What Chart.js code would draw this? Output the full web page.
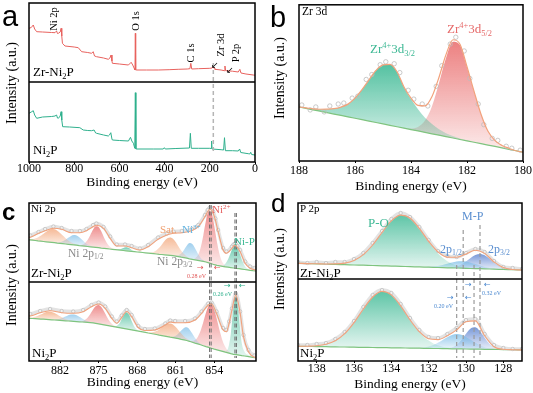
<!DOCTYPE html>
<html><head><meta charset="utf-8">
<script src="https://cdn.jsdelivr.net/npm/chart.js@4.4.1/dist/chart.umd.min.js"></script>
<style>
html,body{margin:0;padding:0;background:#fff}
body{position:relative;width:533px;height:393px;overflow:hidden}
canvas{position:absolute}
.t{position:absolute;font-family:'Liberation Serif','Times New Roman',serif;font-size:12px;line-height:1;white-space:nowrap;color:#000}
.t sub,.t sup{font-size:65%;line-height:0;position:relative;vertical-align:baseline}
.t sup{top:-0.6em}
.t sub{top:0.3em}
.r{transform:translate(-50%,-50%) rotate(-90deg)}
.L{position:absolute;font-family:'Liberation Sans',Arial,sans-serif;line-height:1;color:#000}
.ar{position:absolute;font-family:'DejaVu Sans',sans-serif;line-height:1;font-size:8px}
</style></head><body>
<canvas id="ca" width="266" height="195" style="left:0;top:0"></canvas>
<canvas id="cb" width="267" height="195" style="left:266px;top:0"></canvas>
<canvas id="cc" width="266" height="198" style="left:0;top:195px"></canvas>
<canvas id="cd" width="267" height="198" style="left:266px;top:195px"></canvas>

<div class="L" style="left:2px;top:2px;font-size:29px">a</div>
<div class="L" style="left:270px;top:3px;font-size:29px">b</div>
<div class="L" style="left:2px;top:200px;font-size:24px;font-weight:bold">c</div>
<div class="L" style="left:271px;top:190px;font-size:26px">d</div>

<div class="t r" style="left:12px;top:83px;font-size:14px">Intensity (a.u.)</div>
<div class="t r" style="left:280px;top:78px;font-size:14px">Intensity (a.u.)</div>
<div class="t r" style="left:12px;top:285px;font-size:14px">Intensity (a.u.)</div>
<div class="t r" style="left:280px;top:269px;font-size:14px">Intensity (a.u.)</div>

<!-- panel a -->
<div class="t r" style="left:54px;top:19px;font-size:10.5px">Ni 2p</div>
<div class="t r" style="left:136px;top:21px;font-size:10.5px">O 1s</div>
<div class="t r" style="left:191px;top:53px;font-size:10.5px">C 1s</div>
<div class="t r" style="left:221px;top:45px;font-size:10.5px">Zr 3d</div>
<div class="t r" style="left:236px;top:53px;font-size:10.5px">P 2p</div>
<div class="ar" style="left:211px;top:61px;font-size:9px">&#8601;</div>
<div class="ar" style="left:226px;top:66px;font-size:9px">&#8601;</div>
<div class="t" style="left:33px;top:65px;font-size:13px">Zr-Ni<sub>2</sub>P</div>
<div class="t" style="left:33px;top:143px;font-size:13px">Ni<sub>2</sub>P</div>

<!-- panel b -->
<div class="t" style="left:302px;top:6px;font-size:11.5px">Zr 3d</div>
<div class="t" style="left:370px;top:42px;font-size:13px;color:#3db894">Zr<sup>4+</sup>3d<sub>3/2</sub></div>
<div class="t" style="left:447px;top:22px;font-size:13px;color:#e66a6a">Zr<sup>4+</sup>3d<sub>5/2</sub></div>

<!-- panel c -->
<div class="t" style="left:31px;top:203px;font-size:11px">Ni 2p</div>
<div class="t" style="left:31px;top:266px;font-size:13px">Zr-Ni<sub>2</sub>P</div>
<div class="t" style="left:32px;top:346px;font-size:13px">Ni<sub>2</sub>P</div>
<div class="t" style="left:68px;top:248px;font-size:11.5px;color:#8a8a8a">Ni 2p<sub>1/2</sub></div>
<div class="t" style="left:157px;top:256px;font-size:11.5px;color:#8a8a8a">Ni 2p<sub>3/2</sub></div>
<div class="t" style="left:160px;top:224px;font-size:11px;color:#f0a070">Sat.</div>
<div class="t" style="left:182px;top:224px;font-size:11px;color:#62b3e0">Ni<sup>3+</sup></div>
<div class="t" style="left:212px;top:204px;font-size:11px;color:#e55f5f">Ni<sup>2+</sup></div>
<div class="t" style="left:234px;top:236px;font-size:11px;color:#35b58f">Ni-P</div>
<div class="ar" style="left:197px;top:264px;color:#e05555">&#8594;</div>
<div class="ar" style="left:214px;top:264px;color:#e05555">&#8592;</div>
<div class="t" style="left:187px;top:273px;font-size:6px;color:#e05555">0.28 eV</div>
<div class="ar" style="left:224px;top:282px;color:#2fb08d">&#8594;</div>
<div class="ar" style="left:239px;top:282px;color:#2fb08d">&#8592;</div>
<div class="t" style="left:213px;top:291px;font-size:6px;color:#2fb08d">0.26 eV</div>

<!-- panel d -->
<div class="t" style="left:300px;top:203px;font-size:11px">P 2p</div>
<div class="t" style="left:368px;top:216px;font-size:13px;color:#3db894">P-O</div>
<div class="t" style="left:462px;top:210px;color:#5b8fd0">M-P</div>
<div class="t" style="left:440px;top:243px;color:#5b8fd0">2p<sub>1/2</sub></div>
<div class="t" style="left:488px;top:243px;color:#5b8fd0">2p<sub>3/2</sub></div>
<div class="t" style="left:300px;top:266px;font-size:13px">Zr-Ni<sub>2</sub>P</div>
<div class="t" style="left:300px;top:346px;font-size:13px">Ni<sub>2</sub>P</div>
<div class="ar" style="left:465px;top:281px;color:#4a88d0">&#8594;</div>
<div class="ar" style="left:484px;top:281px;color:#4a88d0">&#8592;</div>
<div class="t" style="left:482px;top:290px;font-size:6px;color:#4a88d0">0.32 eV</div>
<div class="ar" style="left:447px;top:294px;color:#4a88d0">&#8594;</div>
<div class="ar" style="left:465px;top:294px;color:#4a88d0">&#8592;</div>
<div class="t" style="left:434px;top:303px;font-size:6px;color:#4a88d0">0.20 eV</div>

<script>
// ---------------- panel a : survey ----------------
const aTicks = [1000, 800, 600, 400, 200, 0];
const aTopE = [1000,990,981,975,966,940,900,885,878,874,870,862,858,855,852,841,800,782,767,740,723,716,710,701,670,649,642,637,633,631,600,560,548,541,535,531,529.5,528,525,480,428,380,340,300,288,284,280,250,200,190,185,180,177,150,136,133,130,100,74,67,62,40,8,0];
const aTopV = [53.7,54.5,57,53,50.3,50,49.5,49.3,51,48.5,48.7,50,53.7,46,38.7,36,35,34.3,30.3,29.5,28.7,30.3,26,25.3,24,22.7,24,27,21,18.7,18,17,19.7,17,14,12,48.7,12,12,12,12,12.3,12.7,13,13.3,18.7,13,13.3,13.7,14,15.3,13.5,12.7,12,11.3,16,11.3,10.8,10,12.7,9,8,7,6.8];
const aBotE = [1000,990,981,975,966,940,900,885,878,874,870,862,858,855,851,820,775,760,740,723,712,705,701,670,649,644,638,633,631,600,560,551,545,538,532,529.5,527,525,450,406,401,397,350,290,286,282,250,200,193,192,190,188,150,139,135,131,100,74,68,63,30,23,19,15,0];
const aBotV = [48.7,50,51.3,47,43.7,45,45.5,46,47,44,43.7,46,50.3,42,35.3,35,34.3,32,31.5,31.3,32,29,28.7,27,26,27,29.3,23,22,21.5,21,24.7,21,18.7,13.7,69.3,13,13,13,13,14.3,13,13.5,14,28.7,13.7,13.7,13.7,13.5,21,13,13,12.3,12,24.3,11.3,11.3,11,13,9.5,8.3,8,9.7,7.5,7];
const aDashE = [184.5], aDashTop = [99], aDashBot = [9];

// ---------------- panel b : Zr 3d ----------------
const bTicks = [188, 186, 184, 182, 180];
const bGridE = [188,187.75,187.5,187.25,187,186.75,186.5,186.25,186,185.75,185.5,185.25,185,184.75,184.5,184.25,184,183.75,183.5,183.25,183,182.75,182.5,182.25,182,181.75,181.5,181.25,181,180.75,180.5,180.25,180];
const bBg = [55,53.6,52.1,50.7,49.3,47.8,46.4,44.9,43.5,42.1,40.6,39.2,37.8,36.3,34.9,33.4,32,30.6,29.1,27.7,26.3,24.8,23.4,21.9,20.5,19.1,17.6,16.2,14.8,13.3,11.9,10.4,9];
const bZr32 = [0,0.5,1,2,3.5,5.5,8.5,13,20.5,30.5,42,53,60,62,56,42,31,22,15,10,6,3.5,2,1,0.5,0,0,0,0,0,0,0,0];
const bZr52 = [0,0,0,0,0,0,0,0,0,0,0,0,0,0,0,0,1,4,12,28,53,80,98,96,75,52,30,14,6,2.5,1,0,0];
const bEnv = [55,54.1,53.1,52.7,52.8,53.3,54.9,57.9,64,72.6,82.6,92.2,97.8,98.3,90.9,75.4,64,56.6,56.1,65.7,85.3,108.3,123.4,118.9,96,71.1,47.6,30.2,20.8,15.8,12.9,10.4,9];
const bRawE = [187.9,187.6,187.4,187.1,186.9,186.6,186.4,186.1,185.9,185.6,185.4,185.1,184.9,184.6,184.4,184.1,183.9,183.6,183.4,183.1,182.9,182.6,182.4,182.1,181.9,181.6,181.4,181.1,180.9,180.6,180.4,180.1];
const bRaw = [57,52,55,50,56,58,59,64,66,83,88,98,101,99,90,72,63,58,56,76,97,119,126,112,84,58,37,23,21,15,13,11];

// ---------------- panel c : Ni 2p ----------------
const cTicks = [882, 875, 868, 861, 854];
const cGridE = [888,887.5,887,886.5,886,885.5,885,884.5,884,883.5,883,882.5,882,881.5,881,880.5,880,879.5,879,878.5,878,877.5,877,876.5,876,875.5,875,874.5,874,873.5,873,872.5,872,871.5,871,870.5,870,869.5,869,868.5,868,867.5,867,866.5,866,865.5,865,864.5,864,863.5,863,862.5,862,861.5,861,860.5,860,859.5,859,858.5,858,857.5,857,856.5,856,855.5,855,854.5,854,853.5,853,852.5,852,851.5,851,850.5,850,849.5,849,848.5,848,847.5,847,846.5,846];
const cTopBg = [42.4,42.1,41.8,41.5,41.1,40.8,40.5,40.2,39.9,39.6,39.3,38.9,38.6,38.3,38.0,37.7,37.4,37.1,36.8,36.4,36.1,35.8,35.5,35.2,34.9,34.6,34.3,33.9,33.6,33.3,33.0,32.7,32.4,32.1,31.8,31.5,31.2,30.9,30.6,30.3,30.0,29.8,29.5,29.2,28.9,28.6,28.3,28.0,27.7,27.5,27.2,26.9,26.6,26.3,25.9,25.4,24.8,24.3,23.8,23.2,22.7,22.2,21.7,21.1,20.6,20.0,19.1,18.2,17.3,16.6,16.1,15.6,15.2,14.8,14.4,14.0,13.6,13.3,12.9,12.5,12.1,11.7,11.3,11.0,10.6];
const cBotBg = [42.9,42.7,42.5,42.3,42.1,41.9,41.8,41.6,41.4,41.2,41.0,40.8,40.6,40.4,40.2,40.0,39.8,39.6,39.4,39.2,39.0,38.8,38.6,38.4,38.1,37.6,37.1,36.6,36.1,35.6,35.1,34.6,34.1,33.6,33.1,32.6,32.1,31.6,31.1,30.6,30.1,29.6,29.1,28.6,28.0,27.5,27.0,26.5,25.9,25.4,24.9,24.4,23.8,23.3,22.8,22.3,21.7,21.2,20.5,19.7,18.8,17.9,17.1,16.2,15.3,14.4,13.6,12.7,11.9,11.2,10.4,9.6,8.8,8.1,7.3,6.7,6.3,5.9,5.4,5.0,4.6,4.2,3.7,3.3,2.9];
// peak components (height above background), each starting at the given energy
const cTopStarts = [888, 884, 879.5, 872, 867, 862, 859, 853.5];
const cTopSat12 = [0.3,0.6,1.1,2.1,3.5,5.4,7.7,10.1,12.1,13.3,13.4,12.4,10.5,8.2,5.8,3.8,2.3,1.3,0.6,0.3,0.1,0];
const cTopNi3p12 = [0,0.1,0.2,0.5,1.2,2.4,4.3,6.5,8.7,9.9,9.7,8.3,6.1,3.8,2.1,1.0,0.4,0.1,0];
const cTopNi2p12 = [0,0.1,0.3,1.1,2.9,6.5,11.8,17.6,21.2,20.7,16.5,10.7,5.6,2.4,0.8,0.2,0];
const cTopNiP12 = [0,0.3,1.0,2.4,3.5,3.0,1.5,0.5,0.1,0];
const cTopSat32 = [0,0.1,0.3,0.8,1.8,3.7,6.5,10.1,14,16.9,18,16.9,14,10.1,6.5,3.7,1.8,0.8,0.3,0.1,0];
const cTopNi3p32 = [0,0.1,0.4,1.4,3.8,7.8,12.5,15.7,15.3,11.6,6.9,3.2,1.1,0.3,0.1,0];
const cTopNi2p32 = [0,0.1,0.3,1.4,4.7,12.6,26,41.7,52.2,51,38.7,22.9,10.6,3.8,1.1,0.2,0];
const cTopNiP32 = [0,0.2,0.9,3.0,7.9,15.2,21.3,22,16.6,9.3,3.8,1.1,0.2,0];
const cBotStarts = [888, 884, 879.5, 873, 867, 863, 859, 853];
const cBotSat12 = [0.3,0.6,1.1,1.9,3.1,4.5,6.0,7.3,7.9,7.9,7.1,5.8,4.2,2.8,1.7,1.0,0.5,0.2,0.1,0];
const cBotNi3p12 = [0,0.1,0.4,0.8,1.6,2.8,4.2,5.7,6.7,7.0,6.4,5.1,3.6,2.3,1.2,0.6,0.3,0.1,0];
const cBotNi2p12 = [0,0.1,0.3,0.8,2.2,4.7,8.7,13.4,17.4,19,17.4,13.4,8.7,4.7,2.2,0.8,0.3,0.1,0];
const cBotNiP12 = [0,0.1,0.5,2.3,6.5,12.7,16.7,14.8,8.9,3.6,1.0,0.2,0];
const cBotSat32 = [0,0.2,0.4,0.9,1.9,3.4,5.7,8.4,11.1,13.1,13.8,13.1,11.1,8.4,5.7,3.4,1.9,0.9,0.4,0.2,0];
const cBotNi3p32 = [0,0.1,0.3,1.0,2.5,5.2,8.7,11.9,13.2,11.9,8.7,5.2,2.5,1.0,0.3,0.1,0];
const cBotNi2p32 = [0,0.3,1.1,3.0,7.0,13.9,23.5,34,41.8,43.9,39.2,29.9,19.4,10.7,5.1,2.0,0.7,0.2,0];
const cBotNiP32 = [0,0.8,1.5,4.5,20,47.8,58.9,36.2,12,4,1.8,0.8,0.3,0];
const cTopEnvE = [888,887.4,885.9,884.7,883.2,881.7,879.9,878.4,877.2,876,875.4,874.1,872.9,871.7,870.2,869,867.5,866,864.2,862.6,861.4,859.9,858.1,856.9,855.7,855.2,854.8,854.5,854.2,853.8,853.3,852.4,851.8,850.8,850.5,850.2,849.8,849.3,848.4,847.5,846.7,846];
const cTopEnv = [44.3,44.7,48.7,51.3,53.7,52.7,49.3,49.3,51.3,55.3,56.7,53.7,43.7,36,36,34.3,32,35.3,42.7,47,48.7,49.3,51.3,55.3,65.3,70.5,72.7,72,68.7,62,50.3,32,28.7,33.7,36,37,34.5,30.3,18.7,13.7,12.3,11.5];
const cTopRaw = [45.5,46.5,50,53,55.5,54,51,51,53,57,58.5,55,45.5,37.5,37.5,36,33.5,37,44.5,48.5,50.5,51,53,57,67,72,74.5,73.5,70.5,63.5,52,34,30.5,35.5,37.5,38.5,36,32,20.5,15.5,14,13];
const cBotEnvE = [888,887.4,885.6,883.8,881.7,879.6,877.8,876.3,875,873.8,872.6,871.7,870.8,869.9,869,867.8,866.6,864.8,862.9,862,861.1,859.3,857.5,856.3,855.1,854.5,853.6,852.4,851.8,851.3,850.8,850.1,849.3,848.7,847.8,846.7,846];
const cBotEnv = [44.8,45,48.3,50.3,48.3,47.7,49.3,54.3,57,52.7,42.7,37.7,43.7,49.5,44.3,33.5,30.5,31,36,39,38.3,38.3,41,47.7,56,57,47.7,31,29.3,38,51,66,47.7,24.3,9.3,3.7,3.2];
const cBotRaw = [46.5,47,50,52,50,49.5,51,56,58.5,54.5,44.5,39.5,45.5,51,46,35,32,32.5,37.5,40.5,40,40,42.5,49.5,57.5,58.5,49.5,33,31,39.5,52.5,67.5,49.5,26,11,5.5,5];
const cDashE = [854.85, 854.57, 850.25, 849.99], cDashTop = [156, 156, 148, 148], cDashBot = [3, 3, 3, 3];

// ---------------- panel d : P 2p ----------------
const dTicks = [138, 136, 134, 132, 130, 128];
const dGridE = [139,138.75,138.5,138.25,138,137.75,137.5,137.25,137,136.75,136.5,136.25,136,135.75,135.5,135.25,135,134.75,134.5,134.25,134,133.75,133.5,133.25,133,132.75,132.5,132.25,132,131.75,131.5,131.25,131,130.75,130.5,130.25,130,129.75,129.5,129.25,129,128.75,128.5,128.25,128,127.75,127.5,127.25,127];
const dTopBg = [15.7,15.6,15.4,15.3,15.2,15.0,14.9,14.7,14.6,14.4,14.3,14.2,14.0,13.9,13.8,13.6,13.5,13.3,13.2,13.1,12.9,12.8,12.6,12.5,12.4,12.2,12.1,11.9,11.8,11.7,11.5,11.4,11.2,11.1,11.0,10.8,10.7,10.5,10.4,10.3,10.1,10.0,9.8,9.7,9.6,9.4,9.3,9.1,9.0];
const dBotBg = [14.7,14.6,14.6,14.5,14.4,14.3,14.3,14.2,14.1,14.0,14.0,13.9,13.8,13.7,13.7,13.6,13.5,13.4,13.4,13.3,13.2,13.1,13.1,13.0,12.9,12.8,12.8,12.7,12.6,12.5,12.5,12.4,12.3,12.2,12.2,12.1,12.0,11.9,11.9,11.8,11.7,11.6,11.6,11.5,11.4,11.3,11.3,11.2,11.1];
const dTopStarts = [138, 132.25, 131.25];
const dTopPO = [0,0,0.1,0.3,0.5,0.9,1.6,2.8,4.6,7.1,10.6,15,20.5,26.8,33.3,39.8,45.3,49.3,51.3,51.1,48.6,44.2,38.5,32,25.5,19.4,14.1,9.8,6.5,4.1,2.5,1.5,0.8,0.4,0.2,0.1,0];
const dTop2p12 = [0,0.4,0.8,1.6,2.6,4.0,5.3,6.5,7.0,6.8,5.8,4.5,3.1,1.9,1.1,0.5,0.2,0.1,0];
const dTop2p32 = [0,0.2,0.7,1.7,3.7,6.8,10.5,13.6,14.8,13.6,10.5,6.8,3.7,1.7,0.7,0.2,0];
const dBotStarts = [139, 132.75, 131.25];
const dBotPO = [0,0.1,0.2,0.4,0.8,1.4,2.4,3.9,6.1,9.2,13.3,18.5,24.6,31.4,38.3,44.9,50.5,54.4,56.2,55.7,52.9,48.2,42.1,35.3,28.3,21.8,16.1,11.4,7.8,5.0,3.2,1.9,1.1,0.6,0.3,0.15,0];
const dBot2p12 = [0,0.4,0.9,1.8,3.4,5.7,8.6,11.5,13.7,14.7,14.1,12.1,9.3,6.4,3.9,2.1,1.1,0.5,0.2,0.1,0];
const dBot2p32 = [0,0.4,1.4,3.9,8.7,15.2,20.6,21.8,17.9,11.5,5.7,2.2,0.7,0.2,0];
const dEnvE = [139,138.5,138,137.5,137,136.5,136,135.5,135,134.5,134,133.5,133,132.5,132,131.5,131,130.5,130,129.5,129,128.5,128,127.5,127];
const dTopEnv = [15.7,15.4,15.2,15,15.1,15.9,18.6,24.4,34,46.5,58.2,63.9,61,50.6,37.7,27.2,21.9,21.7,25.1,28.7,25.6,17.1,11.4,9.5,9.0];
const dTopRaw = [17,16,17,16,17,17,20,26,36,48,60,66,62,52,39,28,23,22,26,30,27,18,12,11,10];
const dBotEnv = [14.7,14.8,15.2,16.7,20.2,27.3,38.4,52,64,69.6,66.1,55.2,41.2,29.3,22.2,21.4,25.3,31.1,39.3,40.1,25.3,14.3,11.7,11.3,11.1];
const dBotRaw = [16,16,17,18,22,29,40,54,66,71,68,57,43,31,24,23,27,33,41,42,27,16,13,12,12];
const dDashE = [130.5, 130.15, 129.57, 129.25], dDashTop = [96, 131, 96, 136], dDashBot = [3, 3, 3, 3];

// ---------------- helpers ----------------
const SERIF = "'Liberation Serif','Times New Roman',serif";
Chart.defaults.font.family = SERIF;
const COL = {teal: '55,183,145', red: '232,98,98', orange: '242,160,112', lblue: '125,190,232', blue: '88,128,208'};
const BGLINE = '#7fc47f', ENVLINE = '#f2a27c';

function pts(E, V, off) { return E.map((e, i) => ({x: e, y: V[i] + off})); }
function peakPts(gridE, bg, start, net, off) {
  const i0 = gridE.indexOf(start);
  return net.map((v, k) => ({x: gridE[i0 + k], y: bg[i0 + k] + v + off}));
}
function fillGrad(rgb, a0, a1, data) {
  const ys = data.map(p => p.y);
  const yMax = Math.max(...ys), yMin = Math.min(...ys);
  return (ctx) => {
    const ch = ctx.chart, y = ch.scales && ch.scales.y;
    if (!ch.chartArea || !y) return 'rgba(' + rgb + ',' + a0 + ')';
    const g = ch.ctx.createLinearGradient(0, y.getPixelForValue(yMax), 0, y.getPixelForValue(yMin));
    g.addColorStop(0, 'rgba(' + rgb + ',' + a0 + ')');
    g.addColorStop(1, 'rgba(' + rgb + ',' + a1 + ')');
    return g;
  };
}
function peakDS(data, bgIdx, rgb, a0) {
  return {data, fill: bgIdx, backgroundColor: fillGrad(rgb, a0, 0.12, data), borderColor: 'rgba(0,0,0,0)',
          borderWidth: 0, pointRadius: 0, cubicInterpolationMode: 'monotone', order: 5};
}
function lineDS(data, color, width, order, extra) {
  return Object.assign({data, borderColor: color, backgroundColor: color, borderWidth: width, pointRadius: 0, fill: false, order}, extra || {});
}
function dashDS(E, top, bot, color, width, dash) {
  return E.map((e, i) => lineDS([{x: e, y: top[i]}, {x: e, y: bot[i]}], color, width, 0, {borderDash: dash}));
}
function rawBand(data) {
  return lineDS(data, 'rgba(200,200,200,0.5)', 3.5, 1, {cubicInterpolationMode: 'monotone', pointRadius: 1.7,
    pointBorderColor: '#bababa', pointBackgroundColor: 'rgba(255,255,255,0.5)', pointBorderWidth: 0.7});
}
function addFit(ds, gridE, bg, starts, peaks, colors, envE, env, raw, off, a0) {
  const bi = ds.length;
  ds.push(lineDS(pts(gridE, bg, off), BGLINE, 1.2, 2));
  peaks.forEach((p, k) => ds.push(peakDS(peakPts(gridE, bg, starts[k], p, off), bi, COL[colors[k]], a0)));
  ds.push(rawBand(pts(envE, raw, off)));
  ds.push(lineDS(pts(envE, env, off), ENVLINE, 1.1, 0, {cubicInterpolationMode: 'monotone'}));
}
function framePlugin(divider) {
  return {id: 'frame', afterDraw(ch) {
    const {ctx, chartArea: a} = ch;
    ctx.save(); ctx.strokeStyle = '#000'; ctx.lineWidth = 1.5;
    ctx.strokeRect(a.left, a.top, a.right - a.left, a.bottom - a.top);
    if (divider != null) {
      const py = ch.scales.y.getPixelForValue(divider);
      ctx.beginPath(); ctx.moveTo(a.left, py); ctx.lineTo(a.right, py); ctx.stroke();
    }
    ctx.restore();
  }};
}
function makeChart(id, o) {
  return new Chart(document.getElementById(id), {
    type: 'line',
    data: {datasets: o.datasets},
    options: {
      responsive: false, animation: false, events: [], devicePixelRatio: 1,
      layout: {padding: o.pad},
      plugins: {legend: {display: false}, tooltip: {enabled: false}},
      elements: {line: {tension: 0}, point: {radius: 0}},
      scales: {
        x: {type: 'linear', reverse: true, min: o.xmin, max: o.xmax,
          afterBuildTicks: s => { s.ticks = o.ticks.map(v => ({value: v})); },
          afterFit: s => { s.height = o.axisH; },
          grid: {display: true, drawOnChartArea: false, drawTicks: true, tickLength: 2, color: '#000', lineWidth: 1},
          border: {display: false},
          ticks: {font: {family: SERIF, size: 12}, color: '#000', padding: o.tickPad, maxRotation: 0, autoSkip: false,
                  callback: v => String(v)},
          title: {display: true, text: 'Binding energy (eV)', font: {family: SERIF, size: 13.5}, color: '#000',
                  padding: {top: 0, bottom: o.titlePad}}
        },
        y: {display: false, min: 0, max: o.ymax}
      }
    },
    plugins: [framePlugin(o.divider)]
  });
}

// ---------------- panel a ----------------
const A_OFF = 80;
makeChart('ca', {
  pad: {left: 29, right: 11, top: 3, bottom: 0}, axisH: 33, tickPad: -2.2, titlePad: 4.4,
  xmin: 0, xmax: 1000, ticks: aTicks, ymax: 159, divider: A_OFF,
  datasets: [
    lineDS(pts(aTopE, aTopV, A_OFF), '#e8625e', 1, 1),
    lineDS(pts(aBotE, aBotV, 0), '#2fb08d', 1, 1),
    ...dashDS(aDashE, aDashTop, aDashBot, '#b5b5b5', 1.5, [4, 3])
  ]
});

// ---------------- panel b ----------------
makeChart('cb', {
  pad: {left: 33, right: 10, top: 2, bottom: 0}, axisH: 34, tickPad: 0.8, titlePad: 0.9,
  xmin: 180, xmax: 188, ticks: bTicks, ymax: 159, divider: null,
  datasets: [
    lineDS(pts(bGridE, bBg, 0), BGLINE, 1.2, 2),
    peakDS(peakPts(bGridE, bBg, 188, bZr32, 0), 0, COL.teal, 0.85),
    peakDS(peakPts(bGridE, bBg, 188, bZr52, 0), 0, COL.red, 0.8),
    lineDS(pts(bRawE, bRaw, 0), '#bdbdbd', 0, 1, {showLine: false, pointRadius: 2.2, pointBorderColor: '#bdbdbd',
      pointBackgroundColor: 'rgba(255,255,255,0)', pointBorderWidth: 0.8}),
    lineDS(pts(bGridE, bEnv, 0), ENVLINE, 1.2, 0, {cubicInterpolationMode: 'monotone'})
  ]
});

// ---------------- panel c ----------------
const C_OFF = 79;
const cDS = [];
addFit(cDS, cGridE, cTopBg, cTopStarts,
  [cTopSat12, cTopNi3p12, cTopNi2p12, cTopNiP12, cTopSat32, cTopNi3p32, cTopNi2p32, cTopNiP32],
  ['orange', 'lblue', 'red', 'teal', 'orange', 'lblue', 'red', 'teal'], cTopEnvE, cTopEnv, cTopRaw, C_OFF, 0.72);
addFit(cDS, cGridE, cBotBg, cBotStarts,
  [cBotSat12, cBotNi3p12, cBotNi2p12, cBotNiP12, cBotSat32, cBotNi3p32, cBotNi2p32, cBotNiP32],
  ['orange', 'lblue', 'red', 'teal', 'orange', 'lblue', 'red', 'teal'], cBotEnvE, cBotEnv, cBotRaw, 0, 0.72);
cDS.push(...dashDS(cDashE, cDashTop, cDashBot, '#6a6a6a', 1, [4, 2.5]));
makeChart('cc', {
  pad: {left: 29, right: 10, top: 8, bottom: 0}, axisH: 32, tickPad: 0.8, titlePad: 2.4,
  xmin: 846.43, xmax: 887.63, ticks: cTicks, ymax: 158, divider: C_OFF, datasets: cDS
});

// ---------------- panel d ----------------
const D_OFF = 82;
const dDS = [];
addFit(dDS, dGridE, dTopBg, dTopStarts, [dTopPO, dTop2p12, dTop2p32], ['teal', 'lblue', 'blue'],
  dEnvE, dTopEnv, dTopRaw, D_OFF, 0.8);
addFit(dDS, dGridE, dBotBg, dBotStarts, [dBotPO, dBot2p12, dBot2p32], ['teal', 'lblue', 'blue'],
  dEnvE, dBotEnv, dBotRaw, 0, 0.8);
dDS.push(...dashDS(dDashE, dDashTop, dDashBot, '#9a9a9a', 1.2, [4, 3]));
makeChart('cd', {
  pad: {left: 32, right: 11, top: 8, bottom: 0}, axisH: 32, tickPad: -1.2, titlePad: 0.9,
  xmin: 127, xmax: 139, ticks: dTicks, ymax: 158, divider: D_OFF, datasets: dDS
});
</script>
</body></html>
